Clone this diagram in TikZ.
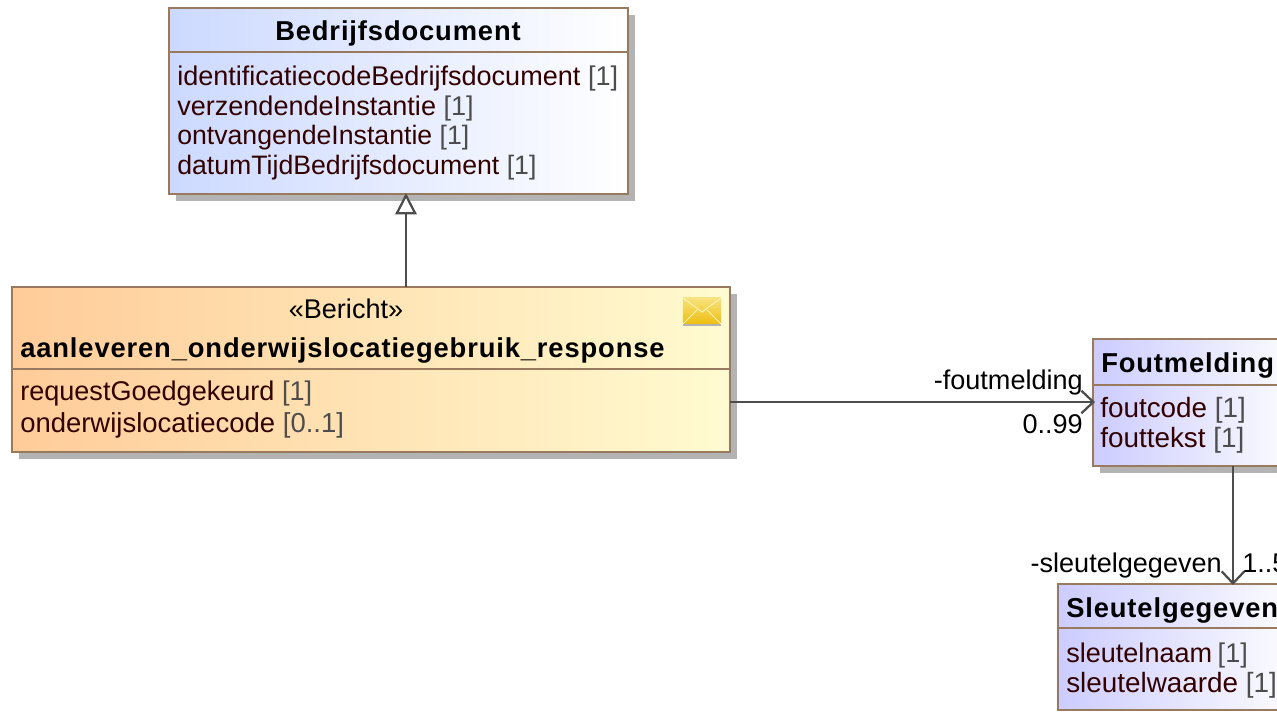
\documentclass[tikz,border=0pt]{standalone}
\usepackage{fontspec}
\setmainfont{Liberation Sans}
\newfontfamily\titlefont[LetterSpace=3.2,BoldFont={Liberation Sans Bold}]{Liberation Sans}
\usetikzlibrary{arrows.meta,calc}
\definecolor{edge}{HTML}{997A5E}
\definecolor{shadowc}{HTML}{B3B3B3}
\definecolor{line}{HTML}{4D4D4D}
\definecolor{attr}{HTML}{330000}
\definecolor{mult}{HTML}{4D4D4D}
\definecolor{blueL}{HTML}{CCD9FF}
\definecolor{blueLb}{HTML}{CCCCFF}
\definecolor{blueR}{HTML}{FFFFFF}
\definecolor{orangeL}{HTML}{FFCC99}
\definecolor{orangeR}{HTML}{FFFBD0}
\definecolor{envT}{HTML}{F8E27E}
\definecolor{envB}{HTML}{EDBE10}
\definecolor{envL}{HTML}{FFF4B8}
\tikzset{
  x=0.75pt,y=-0.75pt,
  boxbase/.style={draw=edge,line width=1.9pt,rectangle,inner sep=0pt,outer sep=0pt,anchor=north west},
  bluebox/.style={boxbase,left color=blueL,right color=blueR},
  violetbox/.style={boxbase,left color=blueLb,right color=blueR},
  orangebox/.style={boxbase,left color=orangeL,right color=orangeR},
  shadowbox/.style={fill=shadowc,draw=none,rectangle,inner sep=0pt,outer sep=0pt,anchor=north west},
  title/.style={font=\fontsize{20.5pt}{24pt}\titlefont\bfseries,text=black,inner sep=0pt,anchor=base west},
  attrib/.style={font=\fontsize{20.3pt}{24pt}\selectfont,text=attr,inner sep=0pt,anchor=base west},
  attribn/.style={attrib,font=\fontsize{20pt}{24pt}\selectfont},
  attribw/.style={attrib,font=\fontsize{20.9pt}{24pt}\selectfont},
  attribm/.style={attrib,font=\fontsize{20.6pt}{24pt}\selectfont},
  plain/.style={font=\fontsize{20.3pt}{24pt}\selectfont,text=black,inner sep=0pt},
  conn/.style={draw=line,line width=1.7pt},
  divider/.style={draw=edge,line width=1.4pt},
}
\newcommand{\mul}[1]{\textcolor{mult}{#1}}
\begin{document}
\begin{tikzpicture}
\path[use as bounding box] (0,0) rectangle (1277,712);
\clip (0,0) rectangle (1277,712);
\fill[white] (0,0) rectangle (1277,712);
% shadows
\node[shadowbox,minimum width=344.25pt,minimum height=139.5pt] (sb) at (176,15) {};
\node[shadowbox,minimum width=538.5pt,minimum height=123.75pt] (sa) at (19,294) {};
\node[shadowbox,minimum width=160pt,minimum height=95.25pt] (sf) at (1100,346) {};
% boxes
\node[bluebox,minimum width=344.25pt,minimum height=139.5pt] (B) at (169,8) {};
\node[orangebox,minimum width=538.5pt,minimum height=123.75pt] (A) at (12,287) {};
\node[violetbox,minimum width=160pt,minimum height=95.25pt] (F) at (1093,339) {};
\node[violetbox,minimum width=186pt,minimum height=94.5pt] (S) at (1058,584) {};
% dividers
\coordinate (dB) at (169,52);
\coordinate (dA) at (12,369);
\coordinate (dF) at (1093,385);
\coordinate (dS) at (1058,628);
\draw[divider] (dB) -- (dB -| B.east);
\draw[divider] (dA) -- (dA -| A.east);
\draw[divider] (dF) -- (dF -| F.east);
\draw[divider] (dS) -- (dS -| S.east);
% Bedrijfsdocument
\node[title] (t1) at (275,41) {Bedrijfsdocument};
\node[attrib] (a1) at (177,86) {identificatiecodeBedrijfsdocument \mul{[1]}};
\node[attrib] (a2) at (177,116) {verzendendeInstantie \mul{[1]}};
\node[attribn] (a3) at (177,145) {ontvangendeInstantie \mul{[1]}};
\node[attribn] (a4) at (177,175) {datumTijdBedrijfsdocument \mul{[1]}};
% Bericht
\node[plain,anchor=base] (st) at (346,319) {«Bericht»};
\node[title] (t2) at (20,358) {aanleveren\_onderwijslocatiegebruik\_response};
\node[attrib] (a5) at (20,401) {requestGoedgekeurd \mul{[1]}};
\node[attribm] (a6) at (20,432) {onderwijslocatiecode \mul{[0..1]}};
% envelope
\node[draw=none,fill=shadowc,rectangle,minimum width=28.5pt,minimum height=19.5pt,inner sep=0pt,outer sep=0pt,anchor=north west] (envs) at (683,300) {};
\node[draw=none,rectangle,minimum width=28.5pt,minimum height=19.5pt,inner sep=0pt,outer sep=0pt,anchor=north west,top color=envT,bottom color=envB] (env) at (683,298) {};
\draw[envL,line width=0.7pt] (env.north west) -- ($(env.center)+(0,1)$) -- (env.north east);
\draw[envL,line width=0.7pt] (env.south west) -- ($(env.center)+(-5,-1)$);
\draw[envL,line width=0.7pt] (env.south east) -- ($(env.center)+(5,-1)$);
% Foutmelding
\node[title] (t3) at (1101,373) {Foutmelding};
\node[attribw] (a7) at (1100,418) {foutcode \mul{[1]}};
\node[attribw] (a8) at (1100,447) {fouttekst \mul{[1]}};
% Sleutelgegeven
\node[title] (t4) at (1066,617) {Sleutelgegeven};
\node[attrib] (a9) at (1066,662) {sleutelnaam\hspace{-1.5pt} \mul{[1]}};
\node[attribw] (a10) at (1066,692) {sleutelwaarde \mul{[1]}};
% connectors
\coordinate (gx) at (406,0);
\coordinate (my) at (0,402);
\coordinate (vx) at (1233,0);
\draw[conn,shorten >=-0.75pt,-{Triangle[open,length=16pt,width=16pt,fill=white]}] (gx |- A.north) -- (gx |- B.south);
\draw[conn,shorten >=-1.5pt,-{Straight Barb[length=9pt,width=17pt]}] (A.east |- my) -- (F.west |- my);
\draw[conn,shorten >=-0.75pt,-{Straight Barb[length=9pt,width=17pt]}] (vx |- F.south) -- (vx |- S.north);
% labels
\node[plain,anchor=base east] (l1) at (1083,390) {-foutmelding};
\node[plain,anchor=base east] (l2) at (1083,434) {0..99};
\node[plain,anchor=base east] (l3) at (1222,572) {-sleutelgegeven};
\node[plain,anchor=base west] (l4) at (1242,572) {1..5};
\end{tikzpicture}
\end{document}
